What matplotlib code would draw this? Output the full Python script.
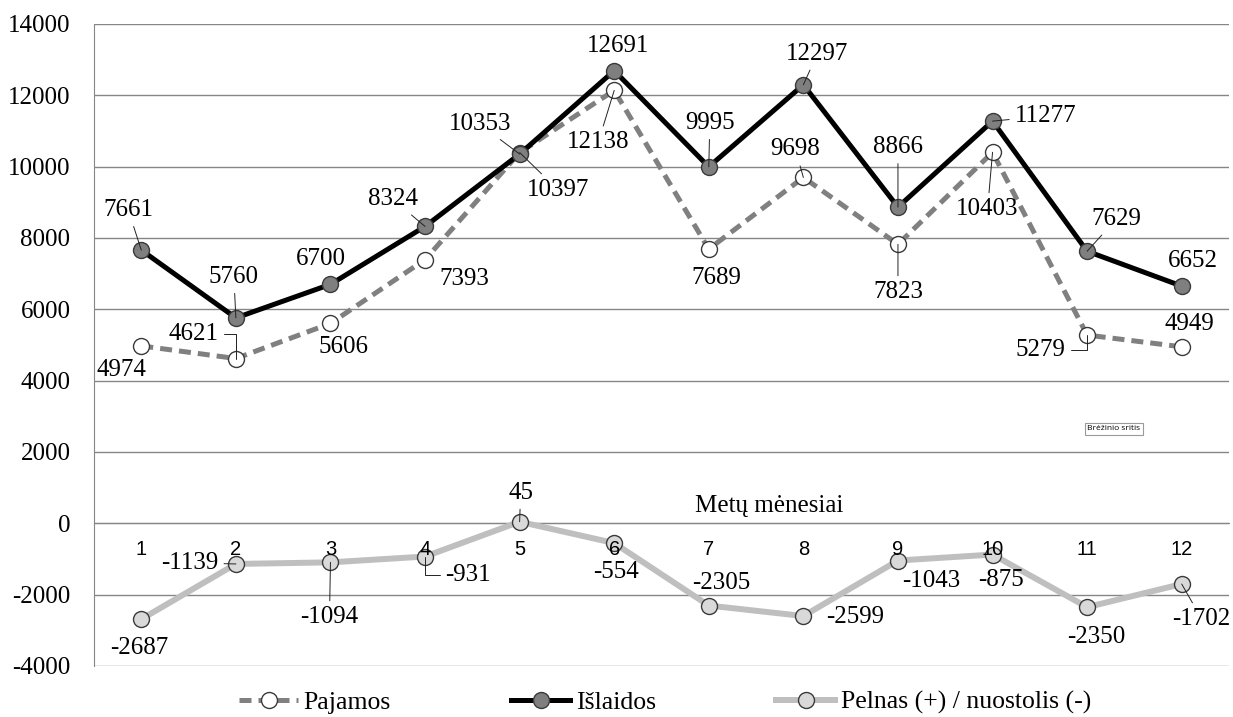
import matplotlib.pyplot as plt

plt.rcParams['font.family'] = ['Liberation Serif', 'DejaVu Serif']

# data
months = list(range(1, 13))
pajamos = [4974, 4621, 5606, 7393, 10397, 12138, 7689, 9698, 7823, 10403, 5279, 4949]
islaidos = [7661, 5760, 6700, 8324, 10353, 12691, 9995, 12297, 8866, 11277, 7629, 6652]
pelnas = [-2687, -1139, -1094, -931, 45, -554, -2305, -2599, -1043, -875, -2350, -1702]
y_ticks = list(range(-4000, 14001, 2000))
series_names = ['Pajamos', 'Išlaidos', 'Pelnas (+) / nuostolis (-)']

# label placement: offset in pixels (dx, dy downwards), leader: 0 none, 1 line, 2 elbow
isl_off = [(-13, -40), (-2, -41), (-10, -25), (-32, -27), (-40, -30), (4, -25),
           (1, -44), (14, -31), (0, -60), (53, -5), (29, -32), (11, -25)]
isl_lead = [1, 1, 0, 1, 1, 0, 1, 1, 1, 1, 1, 0]
paj_off = [(-20, 24), (-42, -25), (13, 24), (39, 19), (38, 37), (-16, 52),
           (8, 29), (-8, -28), (0, 48), (-5, 57), (-47, 15), (8, -23)]
paj_lead = [0, 2, 0, 0, 1, 1, 0, 1, 1, 1, 2, 0]
pel_off = [(-2, 29), (-46, -1), (-1, 55), (43, 18), (1, -29), (2, 29),
           (12, -23), (52, 1), (33, 20), (8, 25), (9, 30), (20, 35)]
pel_lead = [0, 1, 1, 2, 1, 0, 0, 0, 0, 0, 0, 1]

fig = plt.figure(figsize=(12.33, 7.17), dpi=100)
ax = fig.add_axes([94 / 1233, 1 - 666 / 717, 1135 / 1233, 642 / 717])

edge = '#3a3a3a'
l1, = ax.plot(months, pajamos, color='#808080', lw=3.6, ls=(0, (2.4, 1.4)),
              marker='o', ms=11.5, mfc='white', mec=edge, mew=1, zorder=3)
l2, = ax.plot(months, islaidos, color='black', lw=3.6,
              marker='o', ms=11.5, mfc='#7f7f7f', mec=edge, mew=1, zorder=4)
l3, = ax.plot(months, pelnas, color='#bfbfbf', lw=4.3,
              marker='o', ms=11.5, mfc='#d9d9d9', mec=edge, mew=1, zorder=3)


def labels(vals, offs, leads):
    for m, v, (dx, dy), ld in zip(months, vals, offs, leads):
        arrow = None
        if ld == 1:
            arrow = dict(arrowstyle='-', color='#222222', lw=0.7, shrinkA=2, shrinkB=0)
        elif ld == 2:
            arrow = dict(arrowstyle='-', color='#222222', lw=0.7, shrinkA=2, shrinkB=0,
                         connectionstyle='angle,angleA=0,angleB=90,rad=0')
        ax.annotate(str(v), xy=(m, v), xytext=(dx, -dy), textcoords='offset pixels',
                    ha='center', va='center', fontsize=18, arrowprops=arrow, zorder=6)


labels(islaidos, isl_off, isl_lead)
labels(pajamos, paj_off, paj_lead)
labels(pelnas, pel_off, pel_lead)

# spine first, it resets the tick settings
ax.spines['bottom'].set_position(('data', 0))
ax.spines['bottom'].set_color('#868686')
ax.spines['left'].set_color('#868686')
ax.spines['top'].set_visible(False)
ax.spines['right'].set_visible(False)

ax.set_xlim(0.5, 12.5)
ax.set_ylim(-4000, 14000)
ax.set_yticks(y_ticks)
ax.set_yticklabels([str(t) for t in y_ticks], fontsize=18)
ax.set_xticks(months)
ax.set_xticklabels([str(m) for m in months], fontsize=14.5, family='Liberation Sans')
ax.tick_params(axis='y', length=0, pad=17)
ax.tick_params(axis='x', length=0, pad=12)
ax.grid(axis='y', color='#868686', lw=1)
ax.set_axisbelow(True)
ax.xaxis.set_zorder(7)  # month numbers sit on top of the markers

ax.text(7.64, 480, 'Metų mėnesiai', ha='center', va='center', fontsize=18)

fig.text(1114 / 1233, 1 - 429 / 717, 'Brėžinio sritis', family='Open Sans', fontsize=6,
         ha='center', va='center',
         bbox=dict(boxstyle='square,pad=0.35', fc='white', ec='#9a9a9a', lw=0.8))

fig.legend([l1, l2, l3], series_names, loc='center', bbox_to_anchor=(665 / 1233, 0.02),
           ncol=3, frameon=False, fontsize=18.5, handlelength=2.3, handletextpad=0.2,
           columnspacing=4.7)

fig.savefig('out.png', dpi=100)
